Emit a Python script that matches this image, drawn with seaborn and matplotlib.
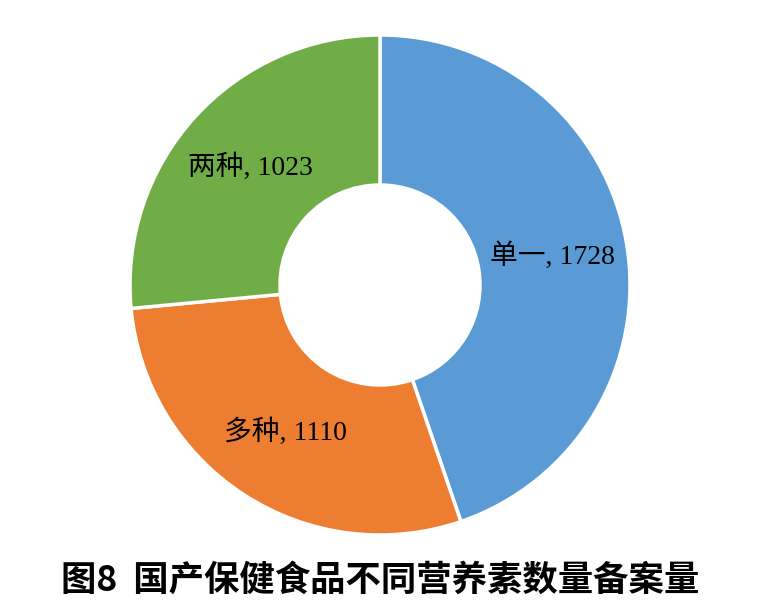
import matplotlib
matplotlib.use("Agg")
import matplotlib.pyplot as plt
import numpy as np
import seaborn as sns

# Filing counts of domestic health foods by number of nutrients
categories = ["单一", "多种", "两种"]
counts = [1728, 1110, 1023]
colors = ["#5B9BD5", "#ED7D31", "#70AD47"]
title = "图8  国产保健食品不同营养素数量备案量"

sns.set_style("white")
plt.rcParams["font.family"] = ["Liberation Serif", "Noto Sans CJK SC", "DejaVu Sans"]

W, H = 761, 615
fig = plt.figure(figsize=(W / 100, H / 100), dpi=100)
ax = fig.add_axes([130 / W, (H - 535) / H, 500 / W, 500 / H])

labels = [f"{c}, {v}" for c, v in zip(categories, counts)]
ax.pie(
    counts,
    colors=colors,
    startangle=90,
    counterclock=False,
    radius=1.0,
    wedgeprops=dict(width=0.6, edgecolor="white", linewidth=2.5),
)

# Data labels placed midway through the ring
total = sum(counts)
start = 90.0
for lab, v in zip(labels, counts):
    span = 360.0 * v / total
    mid = np.deg2rad(start - span / 2)
    r = 0.7
    ax.text(r * np.cos(mid), r * np.sin(mid), lab, ha="center", va="center",
            fontsize=20, color="black",
            family=["Liberation Serif", "Noto Sans CJK SC"])
    start -= span

ax.set_xlim(-1, 1)
ax.set_ylim(-1, 1)
ax.set_aspect("equal")
ax.axis("off")

fig.text(0.5, 1 - 580 / H, title, ha="center", va="center",
         fontsize=25.5, fontweight="bold", color="black",
         family=["Noto Sans CJK SC", "DejaVu Sans"])

fig.savefig("out.png", dpi=100, facecolor="white")
